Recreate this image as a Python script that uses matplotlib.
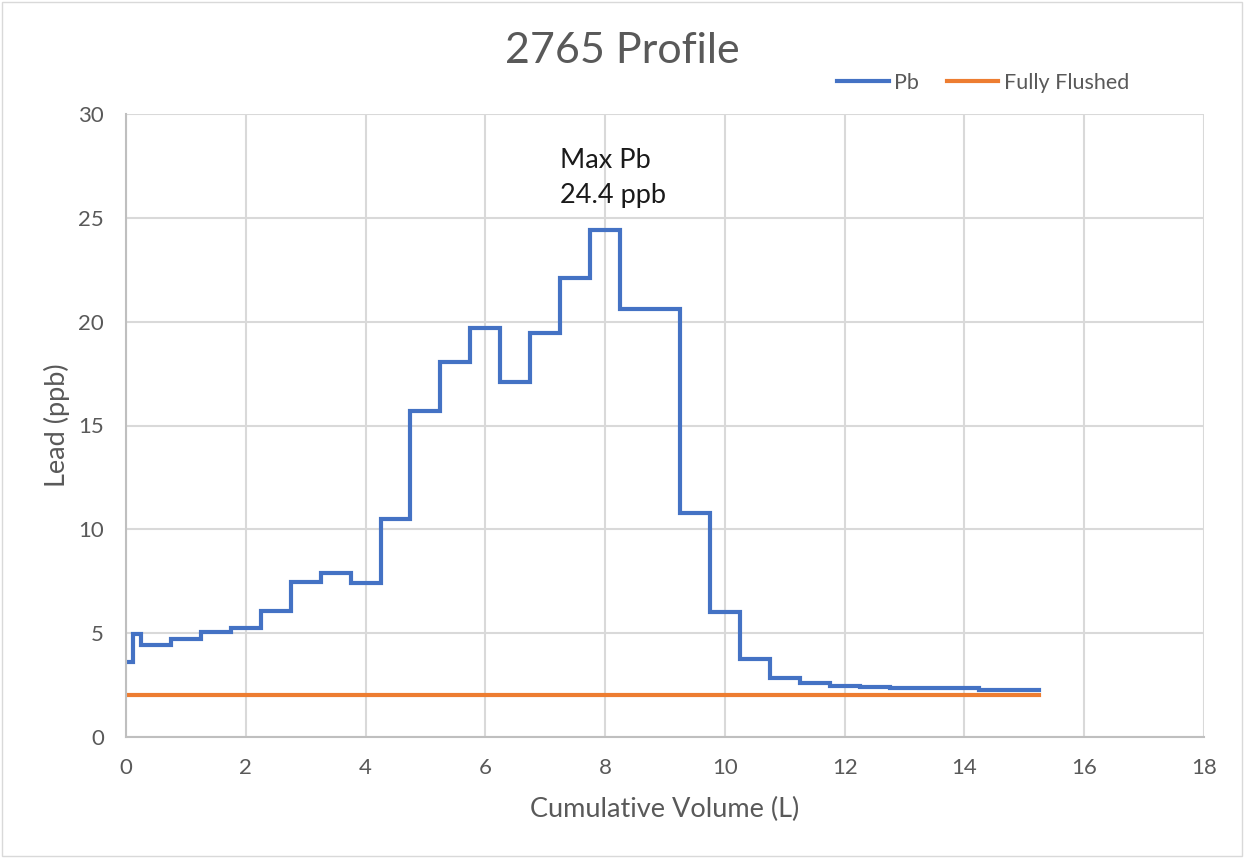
import matplotlib.pyplot as plt
from matplotlib.patches import Rectangle

# cumulative volume at the end of each sample (L) and lead result (ppb)
vol_edges = [0, 0.125, 0.25, 0.75, 1.25, 1.75, 2.25, 2.75, 3.25, 3.75, 4.25,
             4.75, 5.25, 5.75, 6.25, 6.75, 7.25, 7.75, 8.25, 8.75, 9.25,
             9.75, 10.25, 10.75, 11.25, 11.75, 12.25, 12.75, 13.25, 13.75,
             14.25, 14.75, 15.25]
pb = [3.6, 4.95, 4.45, 4.7, 5.05, 5.25, 6.05, 7.45, 7.9, 7.4,
      10.5, 15.7, 18.05, 19.7, 17.1, 19.45, 22.1, 24.4, 20.6, 20.6,
      10.8, 6.0, 3.75, 2.85, 2.6, 2.47, 2.41, 2.36, 2.36, 2.36,
      2.28, 2.28]
flushed = 2.0

blue = '#4472c4'
orange = '#ed7d31'
grey_txt = '#595959'

plt.rcParams['font.family'] = ['Lato', 'DejaVu Sans']

fig = plt.figure(figsize=(12.44, 8.58), dpi=100)
ax = fig.add_axes([126/1244, 1-737/858, (1204-126)/1244, (737-114)/858])

# step line: each value spans its own sample volume
ax.step(vol_edges, pb + [pb[-1]], where='post', color=blue, lw=3, label='Pb',
        solid_joinstyle='miter')
ax.plot([vol_edges[0], vol_edges[-1]], [flushed, flushed], color=orange, lw=3,
        label='Fully Flushed')

ax.set_xlim(0, 18)
ax.set_ylim(0, 30)
ax.set_xticks(range(0, 19, 2))
ax.set_yticks(range(0, 31, 5))
ax.grid(True, color='#d9d9d9', lw=1.5)
ax.set_axisbelow(True)
for s in ['top', 'right']:
    ax.spines[s].set_visible(False)
for s in ['left', 'bottom']:
    ax.spines[s].set_color('#bfbfbf')
    ax.spines[s].set_linewidth(1.5)
ax.tick_params(axis='y', length=0, labelsize=16, labelcolor=grey_txt, pad=16)
ax.tick_params(axis='x', length=0, labelsize=16, labelcolor=grey_txt, pad=15)

ax.set_xlabel('Cumulative Volume (L)', fontsize=19.5, color=grey_txt)
ax.set_ylabel('Lead (ppb)', fontsize=19.5, color=grey_txt)
ax.xaxis.set_label_coords(0.5, (737-809)/623)
ax.yaxis.set_label_coords((57-126)/1078, 0.5)
ax.xaxis.label.set_va('center')
ax.yaxis.label.set_va('center')

fig.text(0.5, 1-51/858, '2765 Profile', ha='center', va='center',
         fontsize=31, color=grey_txt)

ax.text(7.25, 26.9, 'Max Pb\n24.4 ppb', fontsize=19.5, color='#1a1a1a',
        ha='left', va='center', linespacing=1.5)

leg = fig.legend(loc='center', bbox_to_anchor=(983/1244, 1-83/858), ncol=2,
                 frameon=False, fontsize=15.5, handlelength=2.4,
                 columnspacing=1.3, handletextpad=0.25)
for t in leg.get_texts():
    t.set_color(grey_txt)

fig.patches.append(Rectangle((0.002, 0.002), 0.996, 0.996, transform=fig.transFigure,
                             fill=False, edgecolor='#d9d9d9', lw=1))

fig.savefig('out.png', dpi=100)
